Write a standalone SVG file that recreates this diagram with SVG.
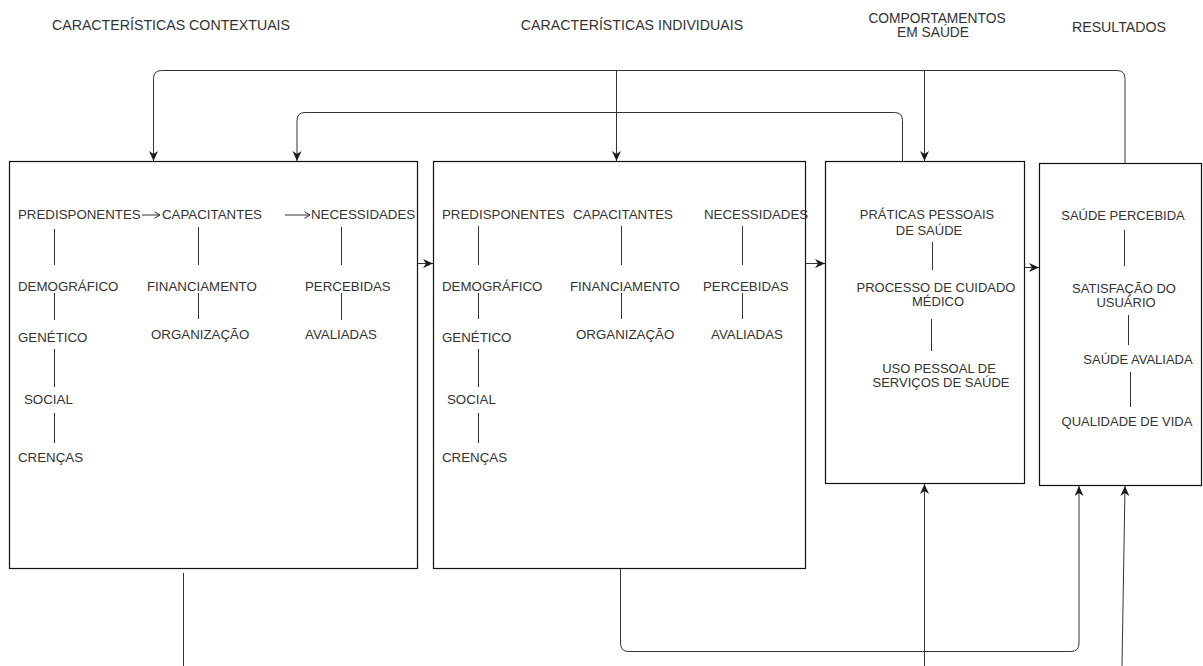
<svg xmlns="http://www.w3.org/2000/svg" width="1203" height="666" viewBox="0 0 1203 666">
<defs>
<marker id="arr" markerUnits="userSpaceOnUse" markerWidth="11" markerHeight="10" refX="10" refY="4.5" orient="auto">
<path d="M0,0 L10,4.5 L0,9 L3,4.5 Z" fill="#1a1a1a"/>
</marker>
<marker id="open" markerUnits="userSpaceOnUse" markerWidth="8" markerHeight="8" refX="6.5" refY="4" orient="auto">
<path d="M1,0.8 L6.5,4 L1,7.2" fill="none" stroke="#333" stroke-width="1"/>
</marker>
<style>
text{font-family:"Liberation Sans",Arial,sans-serif;fill:#333}
.t{font-size:14.2px;text-anchor:middle}
.a{font-size:13.3px}
.b{font-size:13px;text-anchor:middle}
.box{fill:#fff;stroke:#111;stroke-width:1.2}
.v{stroke:#333;stroke-width:1}
.c{fill:none;stroke:#333;stroke-width:1}
</style>
</defs>
<rect width="1203" height="666" fill="#fff"/>

<g id="titles">
<text class="t" x="171" y="30">CARACTERÍSTICAS CONTEXTUAIS</text>
<text class="t" x="632" y="30">CARACTERÍSTICAS INDIVIDUAIS</text>
<text class="t" x="937" y="23" style="font-size:13.8px">COMPORTAMENTOS</text>
<text class="t" x="933" y="37" style="font-size:13.8px">EM SAÚDE</text>
<text class="t" x="1119" y="32">RESULTADOS</text>
</g>

<g id="box1">
<rect class="box" x="9.5" y="161.5" width="408" height="407"/>
<text class="a" x="18" y="219.3">PREDISPONENTES</text>
<line class="v" x1="142" y1="215" x2="160" y2="215" marker-end="url(#open)"/>
<text class="a" x="162" y="219.3">CAPACITANTES</text>
<line class="v" x1="285" y1="215" x2="310" y2="215" marker-end="url(#open)"/>
<text class="a" x="311" y="219.3">NECESSIDADES</text>
<line class="v" x1="54.5" y1="229" x2="54.5" y2="265"/>
<text class="a" x="18" y="291">DEMOGRÁFICO</text>
<line class="v" x1="54.5" y1="293" x2="54.5" y2="320"/>
<text class="a" x="18" y="342">GENÉTICO</text>
<line class="v" x1="54.5" y1="349" x2="54.5" y2="387"/>
<text class="a" x="24" y="404">SOCIAL</text>
<line class="v" x1="54.5" y1="413" x2="54.5" y2="443"/>
<text class="a" x="18" y="461.5">CRENÇAS</text>
<line class="v" x1="198.5" y1="227" x2="198.5" y2="265"/>
<text class="a" x="147" y="291">FINANCIAMENTO</text>
<line class="v" x1="198.5" y1="293" x2="198.5" y2="319"/>
<text class="a" x="151" y="339">ORGANIZAÇÃO</text>
<line class="v" x1="341.5" y1="227" x2="341.5" y2="265"/>
<text class="a" x="305" y="291">PERCEBIDAS</text>
<line class="v" x1="341.5" y1="293" x2="341.5" y2="320"/>
<text class="a" x="305" y="339">AVALIADAS</text>
</g>

<g id="box2">
<rect class="box" x="433.5" y="161.5" width="372" height="407"/>
<text class="a" x="442" y="219.3">PREDISPONENTES</text>
<text class="a" x="573" y="219.3">CAPACITANTES</text>
<text class="a" x="704" y="219.3">NECESSIDADES</text>
<line class="v" x1="478.5" y1="226" x2="478.5" y2="265"/>
<text class="a" x="442" y="291">DEMOGRÁFICO</text>
<line class="v" x1="478.5" y1="293" x2="478.5" y2="319"/>
<text class="a" x="442" y="342">GENÉTICO</text>
<line class="v" x1="478.5" y1="349" x2="478.5" y2="387"/>
<text class="a" x="447" y="404">SOCIAL</text>
<line class="v" x1="478.5" y1="413" x2="478.5" y2="443"/>
<text class="a" x="442" y="461.5">CRENÇAS</text>
<line class="v" x1="621.5" y1="226" x2="621.5" y2="265"/>
<text class="a" x="570" y="291">FINANCIAMENTO</text>
<line class="v" x1="621.5" y1="293" x2="621.5" y2="319"/>
<text class="a" x="576" y="339">ORGANIZAÇÃO</text>
<line class="v" x1="742.5" y1="226" x2="742.5" y2="265"/>
<text class="a" x="703" y="291">PERCEBIDAS</text>
<line class="v" x1="742.5" y1="293" x2="742.5" y2="319"/>
<text class="a" x="711" y="339">AVALIADAS</text>
</g>

<g id="box3">
<rect class="box" x="825.5" y="161.5" width="199" height="322"/>
<text class="b" x="927" y="219">PRÁTICAS PESSOAIS</text>
<text class="b" x="929" y="234.5">DE SAÚDE</text>
<line class="v" x1="932.5" y1="242" x2="932.5" y2="270"/>
<text class="b" x="936" y="291.5">PROCESSO DE CUIDADO</text>
<text class="b" x="938" y="305.5">MÉDICO</text>
<line class="v" x1="931.5" y1="319" x2="931.5" y2="351"/>
<text class="b" x="939" y="372.5">USO PESSOAL DE</text>
<text class="b" x="941" y="386.5">SERVIÇOS DE SAÚDE</text>
</g>

<g id="box4">
<rect class="box" x="1039.5" y="163.5" width="162" height="322"/>
<text class="b" x="1123" y="219.5">SAÚDE PERCEBIDA</text>
<line class="v" x1="1124.5" y1="230" x2="1124.5" y2="266"/>
<text class="b" x="1124" y="292.5">SATISFAÇÃO DO</text>
<text class="b" x="1126" y="306.5">USUÁRIO</text>
<line class="v" x1="1128.5" y1="315" x2="1128.5" y2="345"/>
<text class="b" x="1138" y="363.5">SAÚDE AVALIADA</text>
<line class="v" x1="1130.5" y1="372" x2="1130.5" y2="407"/>
<text class="b" x="1127" y="425.5">QUALIDADE DE VIDA</text>
</g>

<g id="connectors">
<path class="c" d="M1125,163 V78.5 Q1125,70.5 1117,70.5 H161.5 Q153.5,70.5 153.5,78.5 V161" marker-end="url(#arr)"/>
<path class="c" d="M616.5,70.5 V161" marker-end="url(#arr)"/>
<path class="c" d="M924.5,70.5 V161" marker-end="url(#arr)"/>
<path class="c" d="M902.5,161 V120.5 Q902.5,112.5 894.5,112.5 H305 Q297,112.5 297,120.5 V161" marker-end="url(#arr)"/>
<path class="c" d="M418,263.5 H433" marker-end="url(#arr)"/>
<path class="c" d="M806,263.5 H825" marker-end="url(#arr)"/>
<path class="c" d="M1025,267.5 H1039" marker-end="url(#arr)"/>
<path class="c" d="M183.5,573 V666"/>
<path class="c" d="M620.5,569 V643 Q620.5,651.5 628.5,651.5 H1071 Q1079,651.5 1079,643 V486" marker-end="url(#arr)"/>
<path class="c" d="M924.5,666 V484" marker-end="url(#arr)"/>
<path class="c" d="M1122,666 L1125,486" marker-end="url(#arr)"/>
</g>
</svg>
